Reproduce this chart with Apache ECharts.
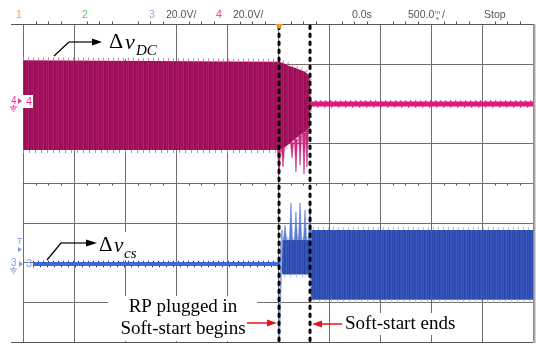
<!DOCTYPE html>
<html><head><meta charset="utf-8">
<script src="https://cdn.jsdelivr.net/npm/echarts@6/dist/echarts.min.js"></script>
<style>html,body{margin:0;padding:0;background:#fff}#c{width:536px;height:345px}</style>
</head><body><div id="c"></div>
<script>
// Time in ms (500 ms/div, 0 = trigger), amplitude in screen divisions
const timeMin = -2500, timeMax = 2500, timeStep = 500;
const divMin = -4, divMax = 4, divStep = 1;

// Channel 4 (Δv_DC): oscillation envelope, then flat trace after soft start
const ch4BandT     = [-2500, 10, 69, 118, 167, 216, 265, 304, 314, 318];
const ch4BandUpper = [3.09, 3.05, 3.00, 2.94, 2.90, 2.85, 2.80, 2.72, 2.62, 2.06];
const ch4BandLower = [0.83, 0.83, 0.90, 1.00, 1.10, 1.20, 1.28, 1.36, 1.42, 1.92];
const ch4FlatT = [316, 2500];
const ch4FlatV = [1.99, 1.99];
// [time, base, spike tip]
const ch4Spikes = [[10, 0.83, 0.20], [49, 0.88, 0.40], [137, 1.02, 0.63], [176, 1.10, 0.28], [216, 1.20, 0.45], [255, 1.26, 0.22], [284, 1.35, 0.40]];

// Channel 3 (Δv_cs): flat trace, then oscillation envelope
const ch3FlatT = [-2402, 20];
const ch3FlatV = [-2.04, -2.04];
const ch3BandT     = [25, 45, 305, 318, 322, 2500];
const ch3BandUpper = [-1.55, -1.43, -1.43, -1.43, -1.18, -1.18];
const ch3BandLower = [-2.20, -2.30, -2.30, -2.30, -2.94, -2.94];
const ch3Spikes = [[69, -1.43, -1.06], [127, -1.43, -0.50], [176, -1.43, -0.73], [216, -1.43, -0.50], [265, -1.43, -0.68], [314, -1.43, -0.55]];
const ch3DropT = [39, 10];
const ch3DropV = [-1.18, -4.0];

// Soft-start markers (dashed lines)
const markerT = [10, 314];

function stripes(colors){
  const c = document.createElement('canvas'); c.width = colors.length; c.height = 1;
  const g = c.getContext('2d');
  colors.forEach((col,i)=>{ g.fillStyle = col; g.fillRect(i,0,1,1); });
  return {image: c, repeat: 'repeat'};
}
const pinkFill = stripes(['#9A0F57','#A81660','#9E1159','#B01D68','#960D55']);
const blueFill = stripes(['#3050B4','#3A5AC0','#2C4BAE','#3656BA','#2846A8']);

function bandSeries(T, U, L, fill, edge){
  return {
    type:'custom', data:[[0,0]], silent:true, z:3,
    renderItem:(p, api)=>{
      const top = T.map((t,i)=>api.coord([t,U[i]]));
      const bot = T.map((t,i)=>api.coord([t,L[i]]));
      const topOut = top.map(q=>[q[0], q[1]-1.5]);
      const botOut = bot.map(q=>[q[0], q[1]+1.5]);
      return {type:'group', children:[
        {type:'polygon', shape:{points: top.concat(bot.slice().reverse())}, style:{fill}},
        {type:'polyline', shape:{points: topOut}, style:{stroke: edge, lineWidth:3, lineDash:[1,4], fill:null}},
        {type:'polyline', shape:{points: botOut}, style:{stroke: edge, lineWidth:3, lineDash:[1,5], fill:null}}
      ]};
    }
  };
}
function flatSeries(T, V, color, width, noise){
  return {
    type:'custom', data:[[0,0]], silent:true, z:3,
    renderItem:(p, api)=>{
      const pts = T.map((t,i)=>api.coord([t,V[i]]));
      const up = pts.map(q=>[q[0], q[1]-width/2-0.5]);
      const dn = pts.map(q=>[q[0], q[1]+width/2+0.5]);
      return {type:'group', children:[
        {type:'polyline', shape:{points: pts}, style:{stroke: color, lineWidth: width, fill:null}},
        {type:'polyline', shape:{points: up}, style:{stroke: noise, lineWidth:1.5, lineDash:[1,4], fill:null}},
        {type:'polyline', shape:{points: dn}, style:{stroke: noise, lineWidth:1.5, lineDash:[1,6], fill:null}}
      ]};
    }
  };
}
function spikeSeries(data, color){
  return {
    type:'custom', data, silent:true, z:4, encode:{x:0, y:[1,2]},
    renderItem:(p, api)=>{
      const a = api.coord([api.value(0), api.value(1)]);
      const b = api.coord([api.value(0), api.value(2)]);
      return {type:'polygon', shape:{points:[[a[0]-1.5,a[1]],[a[0]+1.5,a[1]],[b[0],b[1]]]}, style:{fill: color, stroke: color, lineWidth:0.6}};
    }
  };
}

const gridColor = '#6e6e6e';
const hdrFont = '10.5px "Liberation Sans", Arial, sans-serif';
const serif = '"Liberation Serif", "Times New Roman", serif';
const txt = (text, x, y, fill, font, extra, z) => ({type:'text', z:z||10, style:Object.assign({text, x, y, fill, font, verticalAlign:'middle'}, extra||{})});
const ln = (x1,y1,x2,y2,stroke,w,z) => ({type:'line', z:z||10, shape:{x1,y1,x2,y2}, style:{stroke, lineWidth:w||1}});
const poly = (points, fill, z) => ({type:'polygon', z:z||10, shape:{points}, style:{fill}});
const rect = (x,y,w,h,z) => ({type:'rect', z:z||1, shape:{x,y,width:w,height:h}, style:{fill:'#fff'}});
function ground(cx, y, col){
  return [ln(cx,y,cx,y+2,col,1), ln(cx-3.5,y+2,cx+3.5,y+2,col,1), ln(cx-2.5,y+4,cx+2.5,y+4,col,1), ln(cx-1,y+6,cx+1,y+6,col,1)];
}

const graphics = [
  // header
  txt('1', 16, 15, '#F5A623', hdrFont),
  txt('2', 82, 15, '#5CC65C', hdrFont),
  txt('3', 149, 15, '#8EA8F0', hdrFont),
  txt('20.0V/', 166, 15, '#555', hdrFont),
  txt('4', 216, 15, '#F0289A', hdrFont),
  txt('20.0V/', 233, 15, '#555', hdrFont),
  txt('0.0s', 352, 15, '#555', hdrFont),
  txt('500.0', 408, 15, '#555', hdrFont),
  txt('m', 435, 12, '#555', '6px "Liberation Sans", sans-serif'),
  txt('s', 436, 18, '#555', '6px "Liberation Sans", sans-serif'),
  txt('/', 442, 15, '#555', hdrFont),
  txt('Stop', 484, 15, '#555', hdrFont),
  // borders
  ln(11, 24.5, 535, 24.5, '#555', 1, 5),
  ln(11, 342.5, 533, 342.5, '#555', 1, 5),
  ln(534.5, 24, 534.5, 343, '#aaa', 2, 5),
  // trigger marker
  poly([[275,24],[283,24],[279,29]], '#F39A1E', 12),
  // white boxes behind annotation text
  rect(105, 25, 66, 34),
  rect(98, 232, 44, 28),
  rect(108, 296, 149, 45),
  rect(342, 313, 117, 22),
  // Δv_DC annotation
  ln(54, 56, 69, 42, '#000', 1.2), ln(69, 42, 93, 42, '#000', 1.2),
  poly([[92,38.5],[102,42],[92,45.5]], '#000'),
  txt('Δ', 109, 42, '#000', '22px ' + serif),
  txt('v', 125, 43, '#000', 'italic 22px ' + serif),
  txt('DC', 136, 51, '#000', 'italic 15px ' + serif),
  // Δv_cs annotation
  ln(47, 260, 61, 243, '#000', 1.2), ln(61, 243, 87, 243, '#000', 1.2),
  poly([[86,239.5],[97,243],[86,246.5]], '#000'),
  txt('Δ', 99, 245, '#000', '21px ' + serif),
  txt('v', 114, 246, '#000', 'italic 21px ' + serif),
  txt('cs', 124, 254, '#000', 'italic 15px ' + serif),
  // bottom annotations
  txt('RP plugged in', 183, 307, '#000', '19px ' + serif, {align:'center'}),
  txt('Soft-start begins', 183, 329, '#000', '19px ' + serif, {align:'center'}),
  txt('Soft-start ends', 345, 324, '#000', '19px ' + serif),
  ln(247, 323, 268, 323, '#E8141C', 1.5), poly([[267,319.5],[277,323],[267,326.5]], '#E8141C'),
  ln(342, 324, 321, 324, '#E8141C', 1.5), poly([[322,320.5],[312,324],[322,327.5]], '#E8141C'),
  // ch4 offset marker
  txt('4', 11, 101, '#EE3596', '10px "Liberation Sans", sans-serif'),
  ...ground(13.5, 105, '#EE3596'),
  poly([[18,98],[22,101],[18,104]], '#EE3596'),
  rect(23, 95, 10, 13, 11),
  txt('4', 26, 101.5, '#EE3596', '11px "Liberation Sans", sans-serif', null, 12),
  // ch3 markers
  txt('T', 17, 242, '#7F9EF0', '9px "Liberation Sans", sans-serif'),
  poly([[18,247],[22,249.5],[18,252]], '#7F9EF0'),
  txt('3', 11, 263, '#7F9EF0', '10px "Liberation Sans", sans-serif'),
  ...ground(13.5, 267, '#7F9EF0'),
  poly([[19,261],[23,264],[19,267]], '#7F9EF0'),
  txt('3', 26, 264, '#7F9EF0', '11px "Liberation Sans", sans-serif')
];

const axisCommon = {type:'value', min:timeMin, max:timeMax, interval:timeStep, axisLabel:{show:false}, axisTick:{show:false}};
const option = {
  animation:false,
  backgroundColor:'#fff',
  grid:{left:23, top:24, width:510, height:318, show:false},
  xAxis:[
    Object.assign({}, axisCommon, {position:'bottom', axisLine:{show:true, onZero:true, lineStyle:{color:gridColor}},
      minorTick:{show:true, splitNumber:4, length:2.5, lineStyle:{color:'#555'}},
      splitLine:{show:true, lineStyle:{color:gridColor, width:1}}}),
    Object.assign({}, axisCommon, {position:'top', axisLine:{show:true, onZero:true, lineStyle:{color:gridColor}},
      minorTick:{show:true, splitNumber:4, length:2.5, lineStyle:{color:'#555'}},
      splitLine:{show:false}})
  ],
  yAxis:[{type:'value', min:divMin, max:divMax, interval:divStep, axisLabel:{show:false}, axisTick:{show:false},
    axisLine:{show:false}, splitLine:{show:true, lineStyle:{color:gridColor, width:1}}}],
  series:[
    bandSeries(ch4BandT, ch4BandUpper, ch4BandLower, pinkFill, '#E27AB2'),
    flatSeries(ch4FlatT, ch4FlatV, '#E2167E', 5, '#A50E58'),
    spikeSeries(ch4Spikes, '#C8287A'),
    flatSeries(ch3FlatT, ch3FlatV, '#3D68D8', 4, '#1F3A8A'),
    bandSeries(ch3BandT, ch3BandUpper, ch3BandLower, blueFill, '#A9BCEE'),
    spikeSeries(ch3Spikes, '#5A7ED8'),
    {type:'custom', data:[[0,0]], silent:true, z:4, renderItem:(p, api)=>({
      type:'polyline', shape:{points: ch3DropT.map((t,i)=>api.coord([t, ch3DropV[i]]))}, style:{stroke:'#8FA8E8', lineWidth:2, fill:null}})},
    {type:'custom', data: markerT.map(t=>[t,0]), silent:true, z:6, renderItem:(p, api)=>{
      const a = api.coord([api.value(0), divMax]); const b = api.coord([api.value(0), divMin]);
      return {type:'line', shape:{x1:a[0], y1:a[1]+2, x2:b[0], y2:b[1]+4}, style:{stroke:'#000', lineWidth:3, lineDash:[2.5,5.5], lineCap:'round'}};
    }}
  ],
  graphic: graphics
};
const chart = echarts.init(document.getElementById('c'), null, {renderer:'canvas'});
chart.setOption(option);
</script>
</body></html>
